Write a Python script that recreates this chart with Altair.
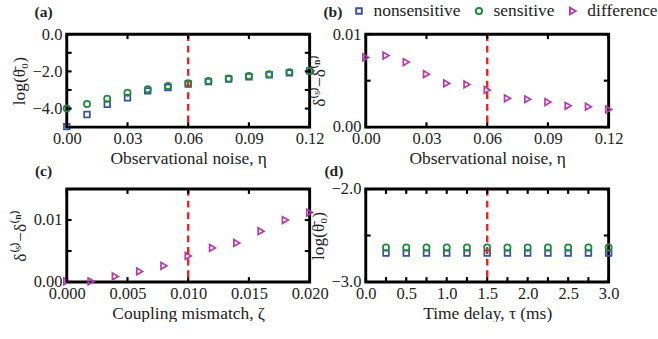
import altair as alt
import pandas as pd

# ---------------- data ----------------
series_names = ["nonsensitive", "sensitive", "difference"]
series_colors = ["#3552a8", "#1f8a3d", "#b23fa9"]
series_shapes = ["square", "circle", "triangle-right"]

eta = [0.00, 0.01, 0.02, 0.03, 0.04, 0.05, 0.06, 0.07, 0.08, 0.09, 0.10, 0.11, 0.12]
a_nonsensitive = [-4.97, -4.32, -3.77, -3.42, -3.05, -2.87, -2.68, -2.55, -2.41, -2.29, -2.18, -2.08, -1.97]
a_sensitive = [-4.00, -3.75, -3.47, -3.15, -2.96, -2.78, -2.64, -2.52, -2.38, -2.25, -2.15, -2.04, -1.96]
b_difference = [0.0075, 0.0077, 0.0070, 0.0057, 0.0047, 0.0046, 0.0040, 0.0031, 0.0030, 0.0027, 0.0023, 0.0022, 0.0019]

zeta = [0.000, 0.002, 0.004, 0.006, 0.008, 0.010, 0.012, 0.014, 0.016, 0.018, 0.020]
c_difference = [0.0001, 0.0001, 0.0009, 0.0017, 0.0026, 0.0042, 0.0055, 0.0063, 0.0082, 0.0100, 0.0112]

tau = [0.25, 0.50, 0.75, 1.00, 1.25, 1.50, 1.75, 2.00, 2.25, 2.50, 2.75, 3.00]
d_nonsensitive = [-2.69, -2.69, -2.69, -2.69, -2.69, -2.69, -2.69, -2.69, -2.69, -2.69, -2.69, -2.69]
d_sensitive = [-2.63, -2.63, -2.63, -2.63, -2.63, -2.63, -2.63, -2.63, -2.63, -2.63, -2.63, -2.63]

a_threshold = [0.06]
b_threshold = [0.06]
c_threshold = [0.010]
d_threshold = [1.5]

a_xticks = [0.00, 0.03, 0.06, 0.09, 0.12]
a_yticks = [-5, -4, -3, -2, -1, 0]
a_ylabels = [-4, -2, 0]
b_xticks = [0.00, 0.03, 0.06, 0.09, 0.12]
b_yticks = [0.000, 0.005, 0.010]
b_ylabels = [0.00, 0.01]
c_xticks = [0.000, 0.005, 0.010, 0.015, 0.020]
c_yticks = [0.000, 0.005, 0.010, 0.015]
c_ylabels = [0.00, 0.01]
d_xticks = [0.0, 0.25, 0.5, 0.75, 1.0, 1.25, 1.5, 1.75, 2.0, 2.25, 2.5, 2.75, 3.0]
d_xlabels = [0.0, 0.5, 1.0, 1.5, 2.0, 2.5, 3.0]
d_yticks = [-3.0, -2.5, -2.0]
d_ylabels = [-3.0, -2.0]

panel_letters = ["(a)", "(b)", "(c)", "(d)"]

FONT = "Liberation Serif"
W = 251
H = 96
TICK = 5
LABEL_SIZE = 17
TITLE_SIZE = 18
LEGEND_SIZE = 18

color_scale = alt.Scale(domain=series_names, range=series_colors)
shape_scale = alt.Scale(domain=series_names, range=series_shapes)
size_scale = alt.Scale(domain=series_names, range=[34, 48, 52])

legend = alt.Legend(orient="none", legendX=293, legendY=-33, direction="horizontal",
                    title=None, labelFont=FONT, labelFontSize=LEGEND_SIZE, labelColor="#222",
                    symbolStrokeWidth=2, symbolSize=30, labelOffset=6, columnPadding=10,
                    padding=0)


def panel(frames, xdom, ydom, xticks, yticks, xlabels, ylabels, xfmt, yfmt,
          xtitle, ytitle, thr, letter, letter_dx, letter_dy):
    df = pd.concat(frames, ignore_index=True)
    xs = alt.Scale(domain=xdom, nice=False, zero=False)
    ys = alt.Scale(domain=ydom, nice=False, zero=False)
    pts = alt.Chart(df).mark_point(filled=False, strokeWidth=1.8, opacity=1, clip=False).encode(
        x=alt.X("x:Q", scale=xs, axis=alt.Axis(values=xlabels, format=xfmt, title=xtitle,
                                                labelPadding=4, titlePadding=4, labelFlush=False)),
        y=alt.Y("y:Q", scale=ys, axis=alt.Axis(values=ylabels, format=yfmt, title=ytitle,
                                                labelPadding=5, titlePadding=4, labelFlush=False)),
        color=alt.Color("series:N", scale=color_scale, legend=legend),
        shape=alt.Shape("series:N", scale=shape_scale, legend=legend),
        size=alt.Size("series:N", scale=size_scale, legend=None),
    )
    thr_df = pd.DataFrame({"x": thr})
    rule = alt.Chart(thr_df).mark_rule(color="#e8262a", strokeWidth=2.5, strokeDash=[7, 5]).encode(
        x=alt.X("x:Q", scale=xs)
    )
    xt = pd.DataFrame({"x": xticks})
    yt = pd.DataFrame({"y": yticks})
    tk = dict(color="black", strokeWidth=2.2)
    top = alt.Chart(xt).mark_rule(**tk).encode(
        x=alt.X("x:Q", scale=xs), y=alt.value(0), y2=alt.value(TICK))
    bot = alt.Chart(xt).mark_rule(**tk).encode(
        x=alt.X("x:Q", scale=xs), y=alt.value(H), y2=alt.value(H - TICK))
    lef = alt.Chart(yt).mark_rule(**tk).encode(
        y=alt.Y("y:Q", scale=ys), x=alt.value(0), x2=alt.value(TICK))
    rig = alt.Chart(yt).mark_rule(**tk).encode(
        y=alt.Y("y:Q", scale=ys), x=alt.value(W), x2=alt.value(W - TICK))
    lab = alt.Chart(pd.DataFrame({"t": [letter]})).mark_text(
        font=FONT, fontSize=16, fontWeight="bold", color="#222", align="center",
        baseline="middle").encode(text="t:N", x=alt.value(letter_dx), y=alt.value(letter_dy))
    return alt.layer(pts, rule, top, bot, lef, rig, lab).properties(width=W, height=H)


def frame(xv, yv, name):
    return pd.DataFrame({"x": xv, "y": yv, "series": [name] * len(xv)})


log_title = "log(θ\u0304\u2080)"
delta_title = "δ⁽ˢ⁾−δ⁽ⁿ⁾"

pa = panel([frame(eta, a_nonsensitive, "nonsensitive"), frame(eta, a_sensitive, "sensitive")],
           [0, 0.12], [-5, 0], a_xticks, a_yticks, a_xticks, a_ylabels, ".2f", ".1f",
           "Observational noise, η", log_title, a_threshold, panel_letters[0], -24, -23)
pb = panel([frame(eta, b_difference, "difference")],
           [0, 0.12], [0, 0.01], b_xticks, b_yticks, b_xticks, b_ylabels, ".2f", ".2f",
           "Observational noise, η", delta_title, b_threshold, panel_letters[1], -34, -23)
pc = panel([frame(zeta, c_difference, "difference")],
           [0, 0.02], [0, 0.015], c_xticks, c_yticks, c_xticks, c_ylabels, ".3f", ".2f",
           "Coupling mismatch, ζ", delta_title, c_threshold, panel_letters[2], -24, -18)
pd_ = panel([frame(tau, d_nonsensitive, "nonsensitive"), frame(tau, d_sensitive, "sensitive")],
            [0, 3], [-3, -2], d_xticks, d_yticks, d_xlabels, d_ylabels, ".1f", ".1f",
            "Time delay, τ (ms)", log_title, d_threshold, panel_letters[3], -33, -18)

chart = alt.concat(
    pa, pb, pc, pd_, columns=2, spacing={"row": 64, "column": 58}, bounds="flush",
).resolve_scale(color="shared", shape="shared").configure_view(
    stroke="black", strokeWidth=3
).configure_axis(
    labelFont=FONT, labelFontSize=LABEL_SIZE, labelColor="#222",
    titleFont=FONT, titleFontSize=TITLE_SIZE, titleFontWeight="normal", titleColor="#222",
    ticks=False, domain=False, grid=False,
).configure_legend(
    labelFont=FONT, labelFontSize=LEGEND_SIZE, labelColor="#222",
).properties(padding={"left": 9, "top": -3, "right": 0, "bottom": -8}, background="white")

chart.save("out.html", embed_options={"renderer": "svg", "actions": False})
